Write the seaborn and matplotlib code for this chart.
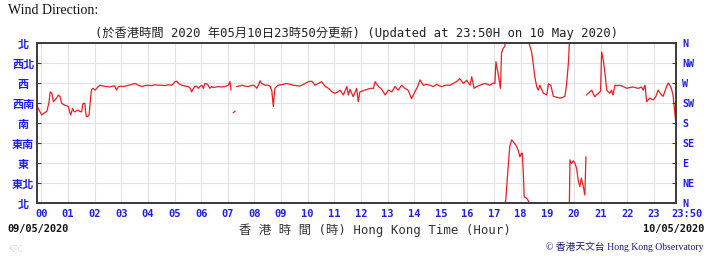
import numpy as np
import pandas as pd
import matplotlib
matplotlib.use("Agg")
import matplotlib.pyplot as plt
import matplotlib.transforms as mtransforms
import seaborn as sns

# ---------------- data ----------------
# time in hours HKT on 10 May 2020 (negative = 9 May, 23:50); NaN marks missing data
hours = [
    -0.16, -0.08, 0.01, 0.11, 0.20, 0.28, 0.33, 0.39, 0.45, 0.51, 0.57, 0.64, 0.70, 0.76, 0.82,
    0.88, 0.94, 1.01, 1.06, 1.10, 1.17, 1.22, 1.26, 1.32, 1.38, 1.44, 1.51, 1.55, 1.57, 1.63,
    1.66, 1.69, 1.76, 1.79, 1.85, 1.88, 1.93, 2.02, 2.10, 2.20, 2.32, 2.45, 2.57, 2.67, 2.76,
    2.82, 2.89, 2.98, 3.08, 3.16, 3.27, 3.41, 3.52, 3.64, 3.77, 3.88, 4.01, 4.13, 4.26, 4.39,
    4.52, 4.64, 4.77, 4.90, 5.02, 5.08, 5.17, 5.27, 5.39, 5.52, 5.59, 5.64, 5.71, 5.77, 5.83,
    5.89, 5.95, 6.02, 6.08, 6.14, 6.24, 6.33, 6.39, 6.45, 6.56, 6.65, 6.77, 6.89, 7.02, 7.08,
    7.12, 7.16,
    7.20, 7.28, 7.30,
    7.33, 7.43, 7.52, 7.64, 7.77, 7.86, 7.96, 8.04, 8.09, 8.17, 8.21, 8.27, 8.34, 8.40, 8.52,
    8.59, 8.65, 8.69, 8.71, 8.74, 8.77, 8.83, 8.89, 8.99, 9.08, 9.21, 9.34, 9.46, 9.58, 9.71,
    9.84, 9.94, 10.02, 10.15, 10.21, 10.27, 10.40, 10.52, 10.66, 10.78, 10.85, 10.91, 11.03,
    11.13, 11.22, 11.34, 11.47, 11.53, 11.59, 11.71, 11.84, 11.90, 11.96, 12.06, 12.15, 12.25,
    12.35, 12.47, 12.53, 12.66, 12.78, 12.91, 13.03, 13.16, 13.28, 13.40, 13.53, 13.65, 13.77,
    13.90, 14.03, 14.13, 14.22, 14.34, 14.47, 14.59, 14.72, 14.84, 14.93, 15.03, 15.13, 15.22,
    15.34, 15.46, 15.59, 15.71, 15.85, 15.97, 16.10, 16.16, 16.25, 16.35, 16.47, 16.56, 16.66,
    16.75, 16.84, 16.97, 17.03, 17.07, 17.15, 17.24, 17.28, 17.34, 17.40, 17.44, 17.53, 17.59,
    17.66, 17.72, 17.79, 17.85, 17.91, 17.97, 18.03, 18.06, 18.10, 18.13, 18.22, 18.28, 18.32,
    18.41, 18.47, 18.53, 18.60, 18.66, 18.72, 18.79, 18.85, 18.98, 19.04, 19.13, 19.23, 19.35,
    19.47, 19.60, 19.66, 19.72, 19.76, 19.80, 19.83, 19.85, 19.91, 19.98, 20.04, 20.10, 20.16,
    20.22, 20.28, 20.35, 20.41, 20.45, 20.46,
    20.47, 20.56, 20.67, 20.73, 20.79, 20.85, 20.91, 21.00, 21.04, 21.10, 21.17, 21.23, 21.29,
    21.35, 21.41, 21.47, 21.54, 21.63, 21.72, 21.85, 21.98, 22.10, 22.23, 22.33, 22.42, 22.54,
    22.60, 22.67, 22.73, 22.79, 22.85, 22.98, 23.08, 23.16, 23.23, 23.29, 23.35, 23.41, 23.48,
    23.54, 23.60, 23.66, 23.72, 23.76, 23.83,
]
# wind direction in degrees, kept continuous: values above 360 mean the wind veered past north
direction = [
    217, 208, 198, 203, 206, 225, 250, 247, 228, 232, 236, 243, 239, 224, 222,
    220, 219, 217, 205, 198, 213, 206, 205, 208, 209, 206, 205, 222, 224, 224,
    205, 194, 196, 198, 239, 255, 258, 254, 260, 265, 263, 262, 261, 263, 263,
    254, 262, 263, 262, 263, 265, 267, 269, 265, 262, 264, 265, 264, 266, 265,
    265, 264, 266, 265, 273, 274, 268, 265, 263, 262, 258, 250, 258, 262, 263,
    258, 262, 265, 258, 269, 267, 258, 262, 260, 261, 262, 261, 262, 265, 273,
    254, np.nan,
    203, 207, np.nan,
    262, 263, 265, 263, 262, 264, 265, 262, 258, 268, 275, 269, 267, 265, 265,
    262, 254, 230, 217, 240, 258, 262, 265, 266, 267, 269, 267, 265, 264, 263,
    267, 270, 273, 274, 270, 265, 269, 273, 262, 258, 254, 250, 247,
    250, 254, 243, 262, 243, 256, 239, 258, 228, 250, 252, 254, 256,
    258, 258, 273, 262, 256, 243, 254, 250, 262, 254, 265, 258, 254,
    235, 250, 262, 277, 265, 267, 265, 262, 267, 264, 262, 264, 265,
    265, 269, 273, 280, 269, 276, 265, 284, 258, 262, 265, 267, 269,
    267, 265, 270, 269, 318, 292, 258, 337, 348, 352, 367, 442, 487,
    502, 498, 492, 487, 478, 464, 472, 472, 427, 374, 371, 366, 358,
    340, 314, 284, 262, 254, 265, 255, 247, 243, 268, 265, 240, 238,
    236, 238, 240, 265, 292, 322, 365, 457, 449, 455, 449, 438, 412,
    397, 416, 397, 378, 464, np.nan,
    243, 248, 254, 245, 239, 244, 246, 252, 340, 322, 290, 254, 250,
    247, 254, 243, 265, 264, 265, 262, 258, 260, 261, 259, 258, 261,
    254, 265, 228, 232, 236, 232, 240, 254, 248, 243, 240, 250, 262,
    270, 265, 258, 243, 220, 179,
]

hour_ticks = [0, 1, 2, 3, 4, 5, 6, 7, 8, 9, 10, 11, 12, 13, 14, 15, 16, 17, 18, 19, 20, 21, 22, 23, 23 + 50 / 60]
hour_labels = ["00", "01", "02", "03", "04", "05", "06", "07", "08", "09", "10", "11", "12",
               "13", "14", "15", "16", "17", "18", "19", "20", "21", "22", "23", "23:50"]
dir_ticks = [0, 45, 90, 135, 180, 225, 270, 315, 360]
dir_labels_zh = ["北", "東北", "東", "東南", "南", "西南", "西", "西北", "北"]
dir_labels_en = ["N", "NE", "E", "SE", "S", "SW", "W", "NW", "N"]

# ---------------- figure ----------------
sns.set_style("white")
plt.rcParams["font.family"] = ["DejaVu Sans", "Noto Sans CJK TC"]

W, H = 709, 256
RED = "#ec1c24"
BLUE = "#1e1ee8"
MONO = ["DejaVu Sans Mono", "Noto Sans CJK TC"]

fig = plt.figure(figsize=(W / 100, H / 100), dpi=100)
L, R, T, B = 37, 676, 43, 203
ax = fig.add_axes([L / W, 1 - B / H, (R - L) / W, (B - T) / H])

df = pd.DataFrame({"hour": hours, "deg": direction})
df["seg"] = df["deg"].isna().cumsum()
df = df.dropna()
parts = []
for k, shift in enumerate([0, -360]):
    p = df.copy()
    p["deg"] = p["deg"] + shift
    p["unit"] = p["seg"] * 2 + k
    parts.append(p)
plot_df = pd.concat(parts, ignore_index=True)

sns.lineplot(data=plot_df, x="hour", y="deg", units="unit", estimator=None,
             color=RED, lw=0.9, ax=ax, legend=False)

ax.set_xlim(-1 / 6, 23 + 50 / 60)
ax.set_ylim(0, 360)
ax.set_xlabel("")
ax.set_ylabel("")
ax.grid(True, color="#e2e2e2", lw=0.8)
ax.set_axisbelow(True)
for s in ax.spines.values():
    s.set_color("#3a3a3a")
    s.set_linewidth(1.2)

ax.set_xticks(hour_ticks)
ax.set_xticklabels(hour_labels, family="DejaVu Sans Mono", fontweight="bold",
                   color=BLUE, fontsize=7.5)
ax.tick_params(axis="x", direction="in", length=3, width=0.8, color="#3a3a3a", pad=4)
ax.set_yticks(dir_ticks)
ax.set_yticklabels(dir_labels_zh, family=["Noto Sans CJK TC"], fontweight="bold",
                   color=BLUE, fontsize=8, ha="center")
ax.tick_params(axis="y", direction="in", length=3, width=0.8, color="#3a3a3a", pad=10)

last = ax.xaxis.get_major_ticks()[-1].label1
last.set_transform(last.get_transform() + mtransforms.ScaledTranslation(0.11, 0, fig.dpi_scale_trans))

tw = ax.twinx()
tw.set_ylim(0, 360)
tw.set_yticks(dir_ticks)
tw.set_yticklabels(dir_labels_en, family="DejaVu Sans Mono", fontweight="bold",
                   color=BLUE, fontsize=7.2)
tw.tick_params(axis="y", direction="in", length=3, width=0.8, color="#3a3a3a", pad=4.5)
tw.grid(False)
for s in tw.spines.values():
    s.set_color("#3a3a3a")
    s.set_linewidth(1.2)


def px(x, y):
    return x / W, 1 - y / H


fig.text(*px(8, 14), "Wind Direction:", family="Liberation Serif", fontsize=10,
         color="#111111", va="baseline", ha="left")
fig.text(*px(357, 33), "(於香港時間 2020 年05月10日23時50分更新) (Updated at 23:50H on 10 May 2020)",
         family=MONO, fontsize=8.8, color="#222222", ha="center", va="center")
fig.text(*px(7, 229), "09/05/2020", family="DejaVu Sans Mono", fontweight="bold",
         fontsize=7.4, color="#111111", ha="left", va="center")
fig.text(*px(704, 229), "10/05/2020", family="DejaVu Sans Mono", fontweight="bold",
         fontsize=7.4, color="#111111", ha="right", va="center")
fig.text(*px(375, 230), "香 港 時 間 (時) Hong Kong Time (Hour)", family=MONO,
         fontsize=8.9, color="#333333", ha="center", va="center")
fig.text(*px(704, 247), "© 香港天文台 Hong Kong Observatory",
         family=["Liberation Serif", "Noto Sans CJK TC"], fontsize=7, color="#1a1a7a",
         ha="right", va="center")
fig.text(*px(8, 250), "KPC", family="DejaVu Sans", fontsize=5.5, color="#dddddd",
         ha="left", va="center")

fig.savefig("out.png", dpi=100)
